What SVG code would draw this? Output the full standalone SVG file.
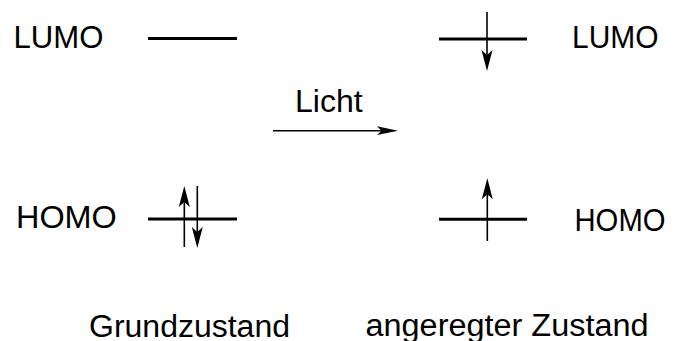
<svg xmlns="http://www.w3.org/2000/svg" width="675" height="341" viewBox="0 0 675 341">
<style>
text{font-family:"Liberation Sans",Arial,sans-serif;font-size:31px;fill:#000}
.lvl{stroke:#000;stroke-width:3;fill:none}
.ln{stroke:#000;stroke-width:1.6;fill:none}
.hd{fill:#000;stroke:none}
</style>
<rect width="675" height="341" fill="#fff"/>
<g id="lumo-left"><text x="13.5" y="47.7" textLength="89.9" lengthAdjust="spacingAndGlyphs">LUMO</text><line class="lvl" x1="148" y1="38.5" x2="237" y2="38.5"/></g>
<g id="homo-left"><text x="16" y="228.3" textLength="100.8" lengthAdjust="spacingAndGlyphs">HOMO</text><line class="lvl" x1="148" y1="219" x2="237" y2="219"/></g>
<g id="lumo-right"><text x="572" y="48.3" textLength="86.5" lengthAdjust="spacingAndGlyphs">LUMO</text><line class="lvl" x1="439" y1="39" x2="527" y2="39"/></g>
<g id="homo-right"><text x="574.5" y="231" textLength="91" lengthAdjust="spacingAndGlyphs">HOMO</text><line class="lvl" x1="439" y1="219.3" x2="527" y2="219.3"/></g>
<g id="grund"><text x="89" y="336.5" textLength="201" lengthAdjust="spacingAndGlyphs">Grundzustand</text></g>
<g id="angeregt"><text x="365.5" y="336" textLength="283" lengthAdjust="spacingAndGlyphs">angeregter Zustand</text></g>
<g id="licht"><text x="295" y="111.7" textLength="67.6" lengthAdjust="spacingAndGlyphs">Licht</text></g>
<g id="connectors">
<line class="ln" x1="184.3" y1="247" x2="184.3" y2="200"/>
<path class="hd" d="M184.3 186 L189.8 207 L184.3 202 L178.8 207 Z"/>
<line class="ln" x1="197.3" y1="186" x2="197.3" y2="234"/>
<path class="hd" d="M197.3 248 L202.8 227 L197.3 232 L191.8 227 Z"/>
<line class="ln" x1="487" y1="12" x2="487" y2="58"/>
<path class="hd" d="M487 71 L492.5 50 L487 55 L481.5 50 Z"/>
<line class="ln" x1="487.3" y1="241" x2="487.3" y2="192"/>
<path class="hd" d="M487.3 178.3 L492.8 199.3 L487.3 194.3 L481.8 199.3 Z"/>
<line class="ln" x1="273" y1="130.7" x2="385" y2="130.7"/>
<path class="hd" d="M398 130.7 L377 126.3 L381.5 130.7 L377 135.1 Z"/>
</g>
</svg>
